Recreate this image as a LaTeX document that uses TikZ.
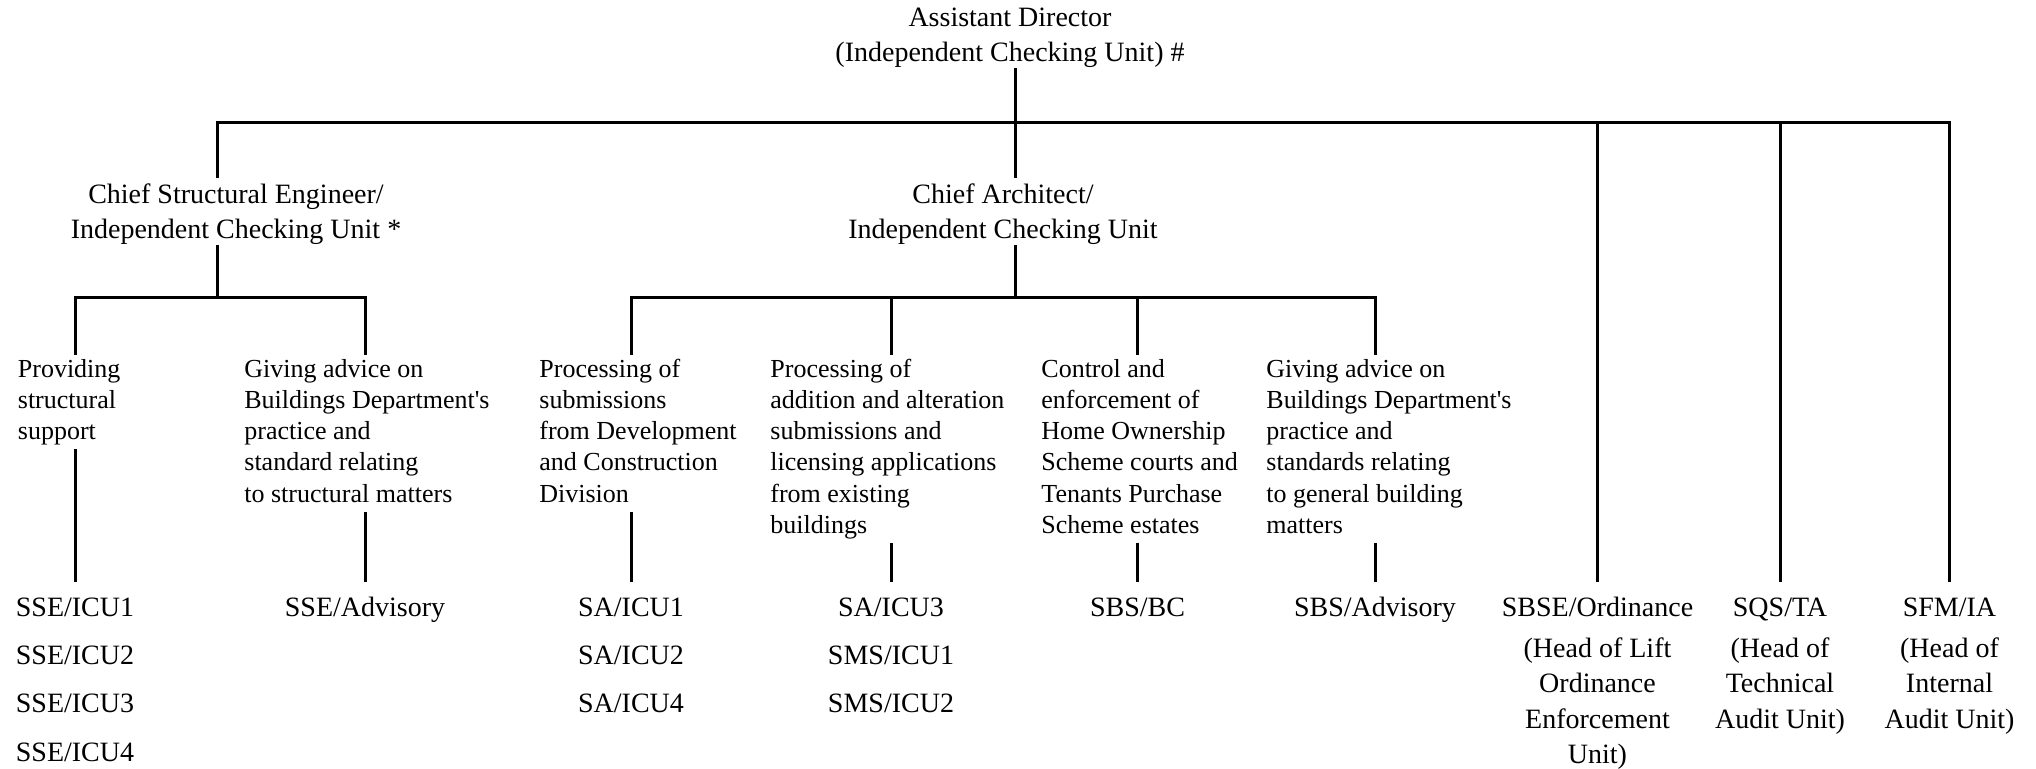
\documentclass[tikz,border=0pt]{standalone}
\usepackage{fontspec}
\setmainfont{Liberation Serif}
\tikzset{
  heading/.style={font=\fontsize{14}{17.5}\selectfont, align=center, anchor=north, inner sep=0pt},
  desc/.style={font=\fontsize{13}{15.6}\selectfont, align=left, anchor=north west, inner sep=0pt},
  lab/.style={font=\fontsize{14}{24.15}\selectfont, align=center, anchor=north, inner sep=0pt},
  rlab/.style={font=\fontsize{14}{17.75}\selectfont, align=center, anchor=north, inner sep=0pt},
  conn/.style={draw=black, line width=1.5pt},
}
\newcommand{\firstrule}{\rule{0pt}{16.9pt}}
\begin{document}
\begin{tikzpicture}[x=0.5pt, y=-0.5pt]
\useasboundingbox (0,0) rectangle (2036,769);

% headings
\node[heading] (ad)  at (1010,1.5)   {\strut Assistant Director\\(Independent Checking Unit) \#};
\node[heading] (cse) at (236,178.5)  {\strut Chief Structural Engineer/\\Independent Checking Unit *};
\node[heading] (ca)  at (1003,178.5) {\strut Chief Architect/\\Independent Checking Unit};

% descriptions
\node[desc] (d1) at (17.5,355) {\strut Providing\\structural\\support\strut};
\node[desc] (d2) at (244,355)  {\strut Giving advice on\\Buildings Department\textquotesingle s\\practice and\\standard relating\\to structural matters\strut};
\node[desc] (d3) at (539,355)  {\strut Processing of\\submissions\\from Development\\and Construction\\Division\strut};
\node[desc] (d4) at (770,355)  {\strut Processing of\\addition and alteration\\submissions and\\licensing applications\\from existing\\buildings\strut};
\node[desc] (d5) at (1041,355) {\strut Control and\\enforcement of\\Home Ownership\\Scheme courts and\\Tenants Purchase\\Scheme estates\strut};
\node[desc] (d6) at (1266,355) {\strut Giving advice on\\Buildings Department\textquotesingle s\\practice and\\standards relating\\to general building\\matters\strut};

% post labels
\node[lab] (l1) at (75,582)   {\strut SSE/ICU1\\SSE/ICU2\\SSE/ICU3\\SSE/ICU4};
\node[lab] (l2) at (365,582)  {\strut SSE/Advisory};
\node[lab] (l3) at (631,582)  {\strut SA/ICU1\\SA/ICU2\\SA/ICU4};
\node[lab] (l4) at (891,582)  {\strut SA/ICU3\\SMS/ICU1\\SMS/ICU2};
\node[lab] (l5) at (1137.5,582) {\strut SBS/BC};
\node[lab] (l6) at (1375,582) {\strut SBS/Advisory};
\node[rlab] (r1) at (1597.5,582) {\firstrule SBSE/Ordinance\\[2.75pt](Head of Lift\\Ordinance\\Enforcement\\Unit)};
\node[rlab] (r2) at (1780,582) {\firstrule SQS/TA\\[2.75pt](Head of\\Technical\\Audit Unit)};
\node[rlab] (r3) at (1949.5,582) {\firstrule SFM/IA\\[2.75pt](Head of\\Internal\\Audit Unit)};

% helper coordinates
\coordinate (xA) at (1015,0);
\coordinate (xS) at (217.5,0);
\coordinate (busY) at (0,122.5);
\coordinate (subY) at (0,297.5);

% top level
\draw[conn] (ad.south -| xA) -- (ca.north -| xA);
\draw[conn] (cse.north -| xS) |- (busY -| r3.north) -- (r3.north);
\draw[conn] (busY -| r1.north) -- (r1.north);
\draw[conn] (busY -| r2.north) -- (r2.north);

% structural branch
\draw[conn] (cse.south -| xS) -- (subY -| xS);
\draw[conn] (d1.north -| l1.north) |- (subY -| l2.north) -- (d2.north -| l2.north);

% architect branch
\draw[conn] (ca.south -| xA) -- (subY -| xA);
\draw[conn] (d3.north -| l3.north) |- (subY -| l6.north) -- (d6.north -| l6.north);
\draw[conn] (subY -| l4.north) -- (d4.north -| l4.north);
\draw[conn] (subY -| l5.north) -- (d5.north -| l5.north);

% descriptions to posts
\draw[conn] (d1.south -| l1.north) -- (l1.north);
\draw[conn] (d2.south -| l2.north) -- (l2.north);
\draw[conn] (d3.south -| l3.north) -- (l3.north);
\draw[conn] (d4.south -| l4.north) -- (l4.north);
\draw[conn] (d5.south -| l5.north) -- (l5.north);
\draw[conn] (d6.south -| l6.north) -- (l6.north);
\end{tikzpicture}
\end{document}
